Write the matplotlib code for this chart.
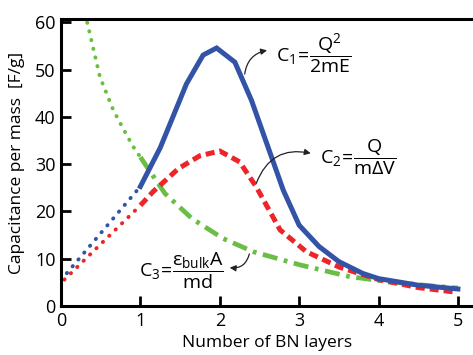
import matplotlib
matplotlib.use("Agg")
import matplotlib.pyplot as plt

# ------------------------------------------------------------------ #
# Data
# ------------------------------------------------------------------ #
# C1 (blue)
c1_x = [1.0, 1.25, 1.58, 1.79, 1.96, 2.19, 2.4, 2.6, 2.8, 3.0, 3.25, 3.5, 3.8, 4.0, 4.5, 5.0]
c1_y = [25.3, 33.5, 47.0, 53.1, 54.6, 51.6, 43.5, 34.0, 24.5, 17.1, 12.6, 9.4, 6.9, 5.8, 4.4, 3.6]
c1_lin_x = [0.0, 1.0]
c1_lin_y = [5.5, 25.3]

# C2 (red)
c2_x = [1.0, 1.16, 1.48, 1.75, 2.0, 2.25, 2.46, 2.76, 3.09, 3.51, 4.0, 4.5, 4.94]
c2_y = [21.3, 24.2, 29.1, 31.8, 32.8, 30.5, 25.2, 16.1, 11.5, 8.2, 5.6, 3.9, 3.0]
c2_lin_x = [0.0, 1.0]
c2_lin_y = [4.9, 21.3]

# C3 (green)
c3_dot_x = [0.33, 0.49, 0.66, 0.8, 0.91, 1.0]
c3_dot_y = [60.0, 48.5, 41.4, 37.0, 33.7, 31.5]
c3_x = [1.0, 1.31, 1.65, 2.04, 2.42, 3.01, 3.64, 4.14, 4.77, 5.0]
c3_y = [31.5, 23.8, 18.5, 14.3, 11.5, 8.7, 6.2, 5.1, 4.1, 3.8]

xticks = [0, 1, 2, 3, 4, 5]
yticks = [0, 10, 20, 30, 40, 50, 60]

blue = "#3253a6"
red = "#ee2428"
green = "#6abd45"

plt.rcParams["font.family"] = ["Open Sans", "DejaVu Sans"]
plt.rcParams["mathtext.fontset"] = "custom"
plt.rcParams["mathtext.rm"] = "Open Sans"
plt.rcParams["mathtext.it"] = "Open Sans"
plt.rcParams["mathtext.bf"] = "Open Sans:bold"

fig = plt.figure(figsize=(4.73, 3.55), dpi=100)
ax = fig.add_axes([0.129, 0.138, 0.871, 0.808])

# dotted extrapolations
ax.plot(c1_lin_x, c1_lin_y, color=blue, lw=2.8, ls=(0, (0.1, 2.2)), dash_capstyle="round")
ax.plot(c2_lin_x, c2_lin_y, color=red, lw=2.8, ls=(1.1, (0.1, 2.2)), dash_capstyle="round")
ax.plot(c3_dot_x, c3_dot_y, color=green, lw=2.8, ls=(0, (0.1, 2.2)), dash_capstyle="round")

# main curves
ax.plot(c3_x, c3_y, color=green, lw=3.4, ls=(0, (3.2, 1.4, 0.8, 1.4)))
ax.plot(c2_x, c2_y, color=red, lw=3.6, ls=(0, (1.8, 1.0)))
ax.plot(c1_x, c1_y, color=blue, lw=3.6, solid_joinstyle="miter")

ax.set_xlim(0, 5.19)
ax.set_ylim(0, 60.7)
ax.set_xticks(xticks)
ax.set_yticks(yticks)
ax.tick_params(direction="in", length=7, width=2, labelsize=13, pad=4)
for side in ("left", "bottom", "top"):
    ax.spines[side].set_linewidth(2.2)
ax.spines["right"].set_visible(False)

ax.set_xlabel("Number of BN layers", fontsize=12.5, labelpad=4)
ax.set_ylabel("Capacitance per mass  [F/g]", fontsize=12.5, labelpad=7)

# formula annotations
arrow = dict(arrowstyle="-|>", color="#222222", lw=0.9, mutation_scale=9)
ax.annotate("", xy=(2.63, 54.2), xytext=(2.31, 48.5),
            arrowprops=dict(connectionstyle="arc3,rad=-0.4", **arrow))
ax.text(2.71, 53.5, r"$\mathregular{C_1\!=\!\dfrac{Q^2}{2mE}}$", fontsize=14, va="center", ha="left")

ax.annotate("", xy=(3.18, 32.2), xytext=(2.45, 25.5),
            arrowprops=dict(connectionstyle="arc3,rad=-0.45", **arrow))
ax.text(3.26, 31.5, r"$\mathregular{C_2\!=\!\dfrac{Q}{m\Delta V}}$", fontsize=14, va="center", ha="left")

ax.annotate("", xy=(2.09, 8.2), xytext=(2.38, 11.6),
            arrowprops=dict(connectionstyle="arc3,rad=-0.5", **arrow))
ax.text(2.05, 7.5, r"$\mathregular{C_3\!=\!\dfrac{\epsilon_{bulk}A}{md}}$", fontsize=14, va="center", ha="right")

fig.savefig("out.png", dpi=100)
